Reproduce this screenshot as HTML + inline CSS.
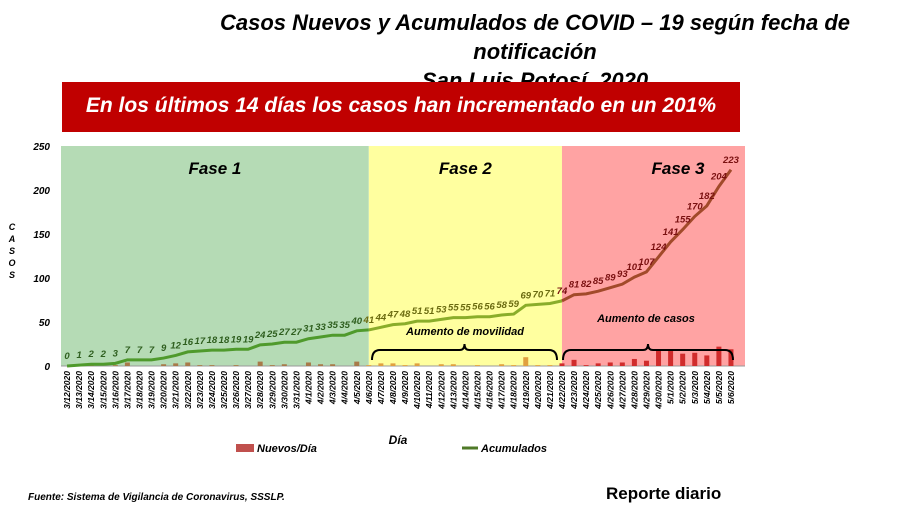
<!DOCTYPE html>
<html><head><meta charset="utf-8"><style>
body{margin:0;background:#fff;width:903px;height:518px;overflow:hidden;position:relative;font-family:"Liberation Sans",sans-serif}
.t{position:absolute;font-weight:bold;font-style:italic;white-space:nowrap}
</style></head><body>
<div class="t" style="left:190px;top:8px;width:690px;text-align:center;font-size:22px;line-height:29px;color:#000">Casos Nuevos y Acumulados de COVID – 19 según fecha de<br>notificación<br>San Luis Potosí, 2020</div>
<div style="position:absolute;left:62px;top:82px;width:678px;height:50px;background:#c00000"></div>
<div class="t" style="left:62px;top:94px;width:678px;text-align:center;color:#fff;font-size:21px">En los últimos 14 días los casos han incrementado en un 201%</div>
<svg id="c" width="903" height="518" style="position:absolute;left:0;top:0"></svg>
<div class="t" style="left:28px;top:492px;font-size:10px">Fuente: Sistema de Vigilancia de Coronavirus, SSSLP.</div>
<div class="t" style="left:606px;top:484px;font-size:17px;font-style:normal">Reporte diario</div>
<script>
const dates=["3/12/2020","3/13/2020","3/14/2020","3/15/2020","3/16/2020","3/17/2020","3/18/2020","3/19/2020","3/20/2020","3/21/2020","3/22/2020","3/23/2020","3/24/2020","3/25/2020","3/26/2020","3/27/2020","3/28/2020","3/29/2020","3/30/2020","3/31/2020","4/1/2020","4/2/2020","4/3/2020","4/4/2020","4/5/2020","4/6/2020","4/7/2020","4/8/2020","4/9/2020","4/10/2020","4/11/2020","4/12/2020","4/13/2020","4/14/2020","4/15/2020","4/16/2020","4/17/2020","4/18/2020","4/19/2020","4/20/2020","4/21/2020","4/22/2020","4/23/2020","4/24/2020","4/25/2020","4/26/2020","4/27/2020","4/28/2020","4/29/2020","4/30/2020","5/1/2020","5/2/2020","5/3/2020","5/4/2020","5/5/2020","5/6/2020"];
const cumulative=[0,1,2,2,3,7,7,7,9,12,16,17,18,18,19,19,24,25,27,27,31,33,35,35,40,41,44,47,48,51,51,53,55,55,56,56,58,59,69,70,71,74,81,82,85,89,93,101,107,124,141,155,170,182,204,223];
const newCases=[0,1,1,0,1,4,0,0,2,3,4,1,1,0,1,0,5,1,2,0,4,2,2,0,5,1,3,3,1,3,0,2,2,0,1,0,2,1,10,1,1,3,7,1,3,4,4,8,6,17,17,14,15,12,22,19];
const yTicks=[0,50,100,150,200,250];
const phase2Start=25, phase3Start=41;
const svg=document.getElementById('c');const NS='http://www.w3.org/2000/svg';
function el(t,a,p){const e=document.createElementNS(NS,t);for(const k in a)e.setAttribute(k,a[k]);(p||svg).appendChild(e);return e;}
const X0=61,X1=737,Y0=366,Y1=146;
const step=(X1-X0)/dates.length;
const x=i=>X0+step*(i+0.5);
const y=v=>Y0-(v/250)*(Y0-Y1);
let r;
r=el('rect',{x:X0,y:Y1,width:x(phase2Start)-X0,height:Y0-Y1,fill:'#b5dbb5'});

r=el('rect',{x:x(phase2Start),y:Y1,width:x(phase3Start)-x(phase2Start),height:Y0-Y1,fill:'#ffff9f'});

r=el('rect',{x:x(phase3Start),y:Y1,width:745-x(phase3Start),height:Y0-Y1,fill:'#ffa3a3'});

function txt(s,a){const t=el('text',Object.assign({'font-family':'Liberation Sans, sans-serif','font-weight':'bold','font-style':'italic'},a));t.textContent=s;return t;}
let t;
t=txt('Fase 1',{x:(X0+x(phase2Start))/2,y:174,'font-size':17,'text-anchor':'middle'});
t=txt('Fase 2',{x:(x(phase2Start)+x(phase3Start))/2,y:174,'font-size':17,'text-anchor':'middle'});
t=txt('Fase 3',{x:678,y:174,'font-size':17,'text-anchor':'middle'});
// y axis
yTicks.forEach(v=>{const tt=txt(String(v),{x:50,y:y(v)+4,'font-size':10,'text-anchor':'end'});
});
['C','A','S','O','S'].forEach((c,i)=>{const tt=txt(c,{x:12,y:230+i*12,'font-size':9,'text-anchor':'middle'});
});
el('line',{x1:X0,y1:Y0,x2:745,y2:Y0,stroke:'#999','stroke-width':1});
// bars
const bw=5;
newCases.forEach((v,i)=>{const col=i<phase2Start?'#a87a4a':(i<phase3Start?'#e0a040':'#d02c2c');
const b=el('rect',{x:x(i)-bw/2,y:y(v),width:bw,height:Y0-y(v),fill:col});
});
// line segments
function seg(a,b,col){let d='';for(let i=a;i<=b;i++)d+=(i==a?'M':'L')+x(i)+','+y(cumulative[i]);
const p=el('path',{d:d,fill:'none',stroke:col,'stroke-width':3});}
seg(0,phase2Start,'#4f9a2c');seg(phase2Start,phase3Start,'#8aad2a');seg(phase3Start,dates.length-1,'#a24a2a');
cumulative.forEach((v,i)=>{const col=i<phase2Start?'#2e5e1e':(i<phase3Start?'#6b6b10':'#7a1010');
const tt=txt(String(v),{x:x(i),y:y(v)-7,'font-size':9.5,'text-anchor':'middle',fill:col});
});
// x labels
dates.forEach((d,i)=>{const tt=txt(d,{x:0,y:0,'font-size':8.5,'text-anchor':'end',transform:`translate(${x(i)+3},${Y0+5}) rotate(-90)`});
});
// braces
function brace(a,b,yy,name){const m=(a+b)/2;const p=el('path',{d:`M${a},${yy+10} Q${a},${yy} ${a+8},${yy} L${m-5},${yy} Q${m},${yy} ${m},${yy-6} Q${m},${yy} ${m+5},${yy} L${b-8},${yy} Q${b},${yy} ${b},${yy+10}`,fill:'none',stroke:'#000','stroke-width':2});
}
brace(372,557,350,'mobility-brace');brace(563,733,350,'cases-brace');
t=txt('Aumento de movilidad',{x:465,y:335,'font-size':11,'text-anchor':'middle'});
t=txt('Aumento de casos',{x:646,y:322,'font-size':11,'text-anchor':'middle'});
t=txt('Día',{x:398,y:444,'font-size':12,'text-anchor':'middle'});
// legend
r=el('rect',{x:236,y:444,width:18,height:8,fill:'#c0504d'});
t=txt('Nuevos/Día',{x:257,y:452,'font-size':11});
r=el('line',{x1:462,y1:448,x2:478,y2:448,stroke:'#4f7a28','stroke-width':3});
t=txt('Acumulados',{x:481,y:452,'font-size':11});
</script>
</body></html>
